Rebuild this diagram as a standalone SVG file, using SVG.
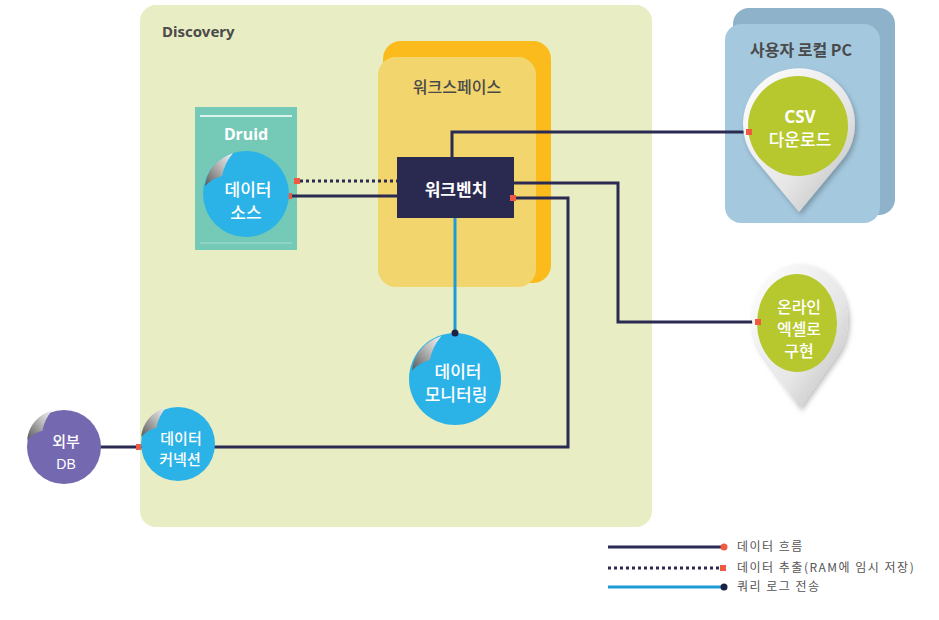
<svg xmlns="http://www.w3.org/2000/svg" width="939" height="620" viewBox="0 0 939 620">
<defs>
<style>
.title{font-family:"Noto Sans","Noto Sans CJK KR",sans-serif;font-weight:bold;fill:#4a4a4a;font-size:15px}
.ktitle{font-family:"Noto Sans CJK KR",sans-serif;font-weight:500;fill:#4a4a4a;font-size:16px}
.wl{font-family:"Noto Sans CJK KR",sans-serif;font-weight:500;fill:#ffffff;text-anchor:middle}
.conn{fill:none;stroke:#2a2a52;stroke-width:3}
.dot{fill:none;stroke:#2a2a52;stroke-width:3;stroke-dasharray:3 3}
.query{fill:none;stroke:#1e9ad6;stroke-width:3}
.red{fill:#f05a40}
.navy{fill:#1c2244}
.blue{fill:#2bb3e8}
.leg{font-family:"Noto Sans CJK KR",sans-serif;font-size:12px;letter-spacing:1.5px;fill:#555555}
</style>
<linearGradient id="curl" x1="0" y1="1" x2="1" y2="0">
<stop offset="0" stop-color="#5a5a5a"/>
<stop offset="0.6" stop-color="#bdbdbd"/>
<stop offset="1" stop-color="#f4f4f4"/>
</linearGradient>
<linearGradient id="pin" x1="0" y1="0" x2="1" y2="1">
<stop offset="0" stop-color="#ffffff"/>
<stop offset="0.6" stop-color="#e6e6e6"/>
<stop offset="1" stop-color="#b8b8b8"/>
</linearGradient>
<filter id="sh" x="-20%" y="-20%" width="140%" height="140%">
<feDropShadow dx="2" dy="3" stdDeviation="2.5" flood-color="#000" flood-opacity="0.25"/>
</filter>
<path id="peel" d="M -41,-8 Q -38,-32 -13,-41 Q -22,-30 -24,-18 Q -33,-16 -41,-8 Z" fill="url(#curl)"/>
</defs>

<g id="discovery">
<rect x="140" y="5" width="512" height="522" rx="16" fill="#e9edc3"/>
<text class="title" x="162" y="37">Discovery</text>
</g>

<g id="workspace">
<rect x="383" y="41" width="168" height="242" rx="18" fill="#fbbb1c"/>
<rect x="378" y="57" width="158" height="230" rx="18" fill="#f2d56c"/>
<text class="ktitle" x="457" y="93" text-anchor="middle">워크스페이스</text>
</g>

<g id="druid">
<rect x="195" y="107" width="102" height="143" fill="#74c9b7"/>
<line x1="200" y1="116" x2="292" y2="116" stroke="#ffffff" stroke-width="1.5"/>
<line x1="200" y1="243" x2="292" y2="243" stroke="#a8ddd0" stroke-width="1"/>
<text x="246" y="140" class="wl" font-size="16" style="font-family:'Noto Sans',sans-serif;font-weight:bold">Druid</text>
</g>

<g id="user-pc">
<rect x="733" y="8" width="162" height="207" rx="16" fill="#8eb2ca"/>
<rect x="725" y="24" width="155" height="199" rx="16" fill="#a4c8de"/>
<text class="ktitle" x="801" y="56" text-anchor="middle" style="font-weight:bold">사용자 로컬 PC</text>
</g>

<g id="connectors">
<line class="dot" x1="300" y1="181" x2="398" y2="181"/>
<rect class="red" x="294" y="178" width="6" height="6"/>
<line class="conn" x1="289" y1="196" x2="398" y2="196"/>
<rect class="red" x="286" y="193" width="6" height="6"/>
<polyline class="conn" points="452,158 452,132 750,132"/>
<polyline class="conn" points="514,183 618,183 618,322 758,322"/>
<polyline class="conn" points="513,198 568,198 568,447 214,447"/>
<line class="query" x1="455" y1="218" x2="455" y2="333"/>
<line class="conn" x1="100" y1="447" x2="142" y2="447"/>
</g>

<g id="workbench">
<rect x="397" y="157" width="117" height="61" fill="#2a2950"/>
<text class="wl" x="456" y="196" font-size="17" style="font-weight:bold">워크벤치</text>
</g>

<g id="data-source">
<circle class="blue" cx="246" cy="194" r="43"/>
<use href="#peel" transform="translate(246,194)"/>
<text class="wl" x="248" y="196" font-size="17">데이터</text>
<text class="wl" x="246" y="219" font-size="17">소스</text>
</g>

<g id="data-monitoring">
<circle class="blue" cx="455" cy="379" r="46"/>
<use href="#peel" transform="translate(455,379) scale(1.05)"/>
<text class="wl" x="458" y="378" font-size="17">데이터</text>
<text class="wl" x="456" y="401" font-size="17">모니터링</text>
</g>

<g id="data-connection">
<circle class="blue" cx="178" cy="444" r="37"/>
<use href="#peel" transform="translate(178,444) scale(0.9)"/>
<text class="wl" x="181" y="444" font-size="15">데이터</text>
<text class="wl" x="180" y="465" font-size="15">커넥션</text>
</g>

<g id="external-db">
<circle cx="64" cy="447" r="37" fill="#7468b0"/>
<use href="#peel" transform="translate(64,447) scale(0.9)"/>
<text class="wl" x="66" y="447" font-size="15">외부</text>
<text class="wl" x="66" y="469" font-size="14" style="font-family:'Liberation Sans',sans-serif">DB</text>
</g>

<g id="csv-download">
<path d="M 755.6,159.6 A 56 56 0 1 1 842.4,159.6 L 799,212 Z" fill="url(#pin)" filter="url(#sh)"/>
<circle cx="798" cy="126" r="50" fill="#b6c82e"/>
<text class="wl" x="800" y="123" font-size="17" style="font-family:'Noto Sans',sans-serif;font-weight:bold">CSV</text>
<text class="wl" x="800" y="146" font-size="17">다운로드</text>
</g>

<g id="online-excel">
<path d="M 763,355.6 A 48 56 0 1 1 837,355.6 L 800,408 Z" fill="url(#pin)" filter="url(#sh)"/>
<ellipse cx="797" cy="323" rx="40" ry="49" fill="#b6c82e"/>
<text class="wl" x="799" y="313" font-size="16">온라인</text>
<text class="wl" x="799" y="335" font-size="16">엑셀로</text>
<text class="wl" x="799" y="357" font-size="16">구현</text>
</g>

<g id="endpoints">
<rect class="red" x="746" y="129" width="6" height="6"/>
<rect class="red" x="755" y="319" width="6" height="6"/>
<rect class="red" x="510" y="195" width="6" height="6"/>
<circle class="navy" cx="455" cy="333" r="3.5"/>
<rect class="red" x="136" y="444" width="5" height="6"/>
</g>

<g id="legend">
<line class="conn" x1="608" y1="547" x2="722" y2="547"/>
<circle class="red" cx="724" cy="547" r="3.5"/>
<text class="leg" x="737" y="551">데이터 흐름</text>
<line class="dot" x1="608" y1="568" x2="720" y2="568"/>
<rect class="red" x="720" y="565" width="6" height="6"/>
<text class="leg" x="737" y="572">데이터 추출(RAM에 임시 저장)</text>
<line class="query" x1="608" y1="587" x2="722" y2="587"/>
<circle class="navy" cx="724" cy="587" r="3.5"/>
<text class="leg" x="737" y="591">쿼리 로그 전송</text>
</g>
</svg>
